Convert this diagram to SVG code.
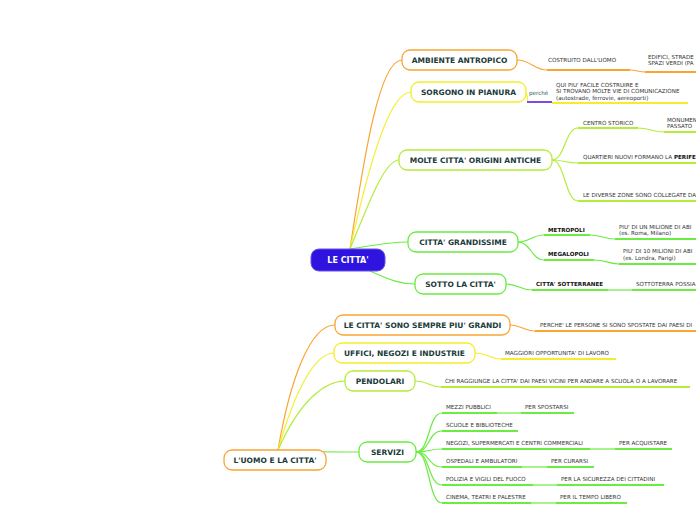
<svg xmlns="http://www.w3.org/2000/svg" width="696" height="520" viewBox="0 0 696 520">
<style>
.n{fill:#fff;stroke-width:1.3}
.t{font-family:"DejaVu Sans",sans-serif;font-size:7.5px;font-weight:bold;fill:#1a3a3a;text-anchor:middle}
.l{font-family:"DejaVu Sans",sans-serif;font-size:5.6px;fill:#333}
.b{font-weight:bold;fill:#111}
.c{fill:none;stroke-width:1.2}
.u{fill:none;stroke-width:2}
.o{stroke:#f9a534}.y{stroke:#f4ee2a}.g{stroke:#b5ec3a}.G{stroke:#6bec42}.p{stroke:#7a4ee0}
</style>
<rect width="696" height="520" fill="#fff"/>
<g id="connectors">
<path class="c o" d="M350 249 C365 150 380 60 402 60"/>
<path class="c y" d="M350 249 C370 160 390 92 411 92"/>
<path class="c g" d="M350 249 C370 200 385 160 399 160"/>
<path class="c G" d="M350 249 C375 245 390 242 408 242"/>
<path class="c G" d="M370 271 C390 280 400 284 415 284"/>
<path class="c o" d="M278 450 C290 380 310 325 335 325"/>
<path class="c y" d="M278 450 C295 390 315 353 334 353"/>
<path class="c g" d="M278 450 C300 400 325 381 345 381"/>
<path class="c G" d="M278 450 C300 452 330 452 359 452"/>
<!-- ambiente -->
<path class="c o" d="M517 60 C530 60 535 70 547 70"/><path class="u o" d="M547 70 H630"/>
<path class="c o" d="M630 70 C635 70 640 72 645 72"/><path class="u o" d="M645 72 H696"/>
<!-- pianura -->
<path class="c y" d="M526 92 C528 98 528 102 527 102"/><path class="u p" d="M527 102 H552"/><path class="u y" d="M552 103 H688"/>
<!-- origini -->
<path class="c g" d="M552 160 C565 160 565 128 578 128"/><path class="u g" d="M578 128 H638"/>
<path class="c g" d="M638 128 C650 128 652 132 664 132"/><path class="u g" d="M664 132 H696"/>
<path class="c g" d="M552 160 C565 160 565 163 578 163"/><path class="u g" d="M578 163 H696"/>
<path class="c g" d="M552 160 C565 160 565 201 578 201"/><path class="u g" d="M578 201 H696"/>
<!-- grandissime -->
<path class="c G" d="M518 242 C530 242 532 235 544 235"/><path class="u G" d="M544 235 H590"/>
<path class="c G" d="M590 235 C600 235 605 239 615 239"/><path class="u G" d="M615 239 H696"/>
<path class="c G" d="M518 242 C530 242 532 260 544 260"/><path class="u G" d="M544 260 H594"/>
<path class="c G" d="M594 260 C605 260 610 264 619 264"/><path class="u G" d="M619 264 H696"/>
<path class="c G" d="M506 284 C518 284 520 290 532 290"/><path class="u G" d="M532 290 H608"/>
<path class="c G" d="M608 290 H632"/><path class="u G" d="M632 290 H696"/>
<!-- uomo -->
<path class="c o" d="M510 325 C520 325 525 331 535 331"/><path class="u o" d="M535 331 H696"/>
<path class="c y" d="M475 353 C488 353 490 359 501 359"/><path class="u y" d="M501 359 H616"/>
<path class="c g" d="M415 381 C428 381 430 387 441 387"/><path class="u g" d="M441 387 H690"/>
<path class="c G" d="M416 452 C430 452 428 413 442 413"/><path class="u G" d="M442 413 H497"/><path class="c G" d="M497 413 H521"/><path class="u G" d="M521 413 H574"/>
<path class="c G" d="M416 452 C430 452 428 431 442 431"/><path class="u G" d="M442 431 H518"/>
<path class="c G" d="M416 452 C430 452 428 449 442 449"/><path class="u G" d="M442 449 H590"/><path class="c G" d="M590 449 H615"/><path class="u G" d="M615 449 H672"/>
<path class="c G" d="M416 452 C430 452 428 467 442 467"/><path class="u G" d="M442 467 H522"/><path class="c G" d="M522 467 H547"/><path class="u G" d="M547 467 H594"/>
<path class="c G" d="M416 452 C430 452 428 485 442 485"/><path class="u G" d="M442 485 H533"/><path class="c G" d="M533 485 H557"/><path class="u G" d="M557 485 H664"/>
<path class="c G" d="M416 452 C430 452 428 503 442 503"/><path class="u G" d="M442 503 H531"/><path class="c G" d="M531 503 H556"/><path class="u G" d="M556 503 H627"/>
</g>
<g id="main"><rect x="311" y="249" width="74" height="22" rx="8" fill="#2f14e0" stroke="#6a4ef0"/><text class="t" x="348" y="263" fill="#fff" style="fill:#fff;font-size:8px">LE CITTA'</text></g>
<g id="n1"><rect class="n o" x="402" y="50" width="115" height="20" rx="8"/><text class="t" x="459.5" y="63">AMBIENTE ANTROPICO</text></g>
<g id="n2"><rect class="n y" x="411" y="82" width="115" height="20" rx="8"/><text class="t" x="468.5" y="95">SORGONO IN PIANURA</text></g>
<g id="n3"><rect class="n g" x="399" y="150" width="153" height="20" rx="8"/><text class="t" x="475.5" y="163">MOLTE CITTA' ORIGINI ANTICHE</text></g>
<g id="n4"><rect class="n G" x="408" y="232" width="110" height="20" rx="8"/><text class="t" x="463" y="245">CITTA' GRANDISSIME</text></g>
<g id="n5"><rect class="n G" x="415" y="274" width="91" height="20" rx="8"/><text class="t" x="460.5" y="287">SOTTO LA CITTA'</text></g>
<g id="n6"><rect class="n o" x="224" y="450" width="102" height="20" rx="8"/><text class="t" x="275" y="463">L'UOMO E LA CITTA'</text></g>
<g id="n7"><rect class="n o" x="335" y="315" width="175" height="20" rx="8"/><text class="t" x="422.5" y="328">LE CITTA' SONO SEMPRE PIU' GRANDI</text></g>
<g id="n8"><rect class="n y" x="334" y="343" width="141" height="20" rx="8"/><text class="t" x="404.5" y="356">UFFICI, NEGOZI E INDUSTRIE</text></g>
<g id="n9"><rect class="n g" x="345" y="371" width="70" height="20" rx="8"/><text class="t" x="380" y="384">PENDOLARI</text></g>
<g id="n10"><rect class="n G" x="359" y="442" width="57" height="20" rx="8"/><text class="t" x="387.5" y="455">SERVIZI</text></g>
<g id="labels">
<text class="l" x="548" y="62">COSTRUITO DALL'UOMO</text>
<text class="l" x="648" y="59">EDIFICI, STRADE</text><text class="l" x="648" y="65">SPAZI VERDI (PA</text>
<text class="l" x="529" y="95" style="fill:#2a5a5a">perché</text>
<text class="l" x="556" y="87">QUI PIU' FACILE COSTRUIRE E</text><text class="l" x="556" y="93">SI TROVANO MOLTE VIE DI COMUNICAZIONE</text><text class="l" x="556" y="100">(autostrade, ferrovie, aereoporti)</text>
<text class="l" x="583" y="125">CENTRO STORICO</text>
<text class="l" x="667" y="122">MONUMEN</text><text class="l" x="667" y="128">PASSATO</text>
<text class="l" x="583" y="159">QUARTIERI NUOVI FORMANO LA <tspan class="b">PERIFE</tspan></text>
<text class="l" x="583" y="197">LE DIVERSE ZONE SONO COLLEGATE DA</text>
<text class="l b" x="548" y="232">METROPOLI</text>
<text class="l" x="619" y="229">PIU' DI UN MILIONE DI ABI</text><text class="l" x="619" y="235">(es. Roma, Milano)</text>
<text class="l b" x="548" y="256">MEGALOPOLI</text>
<text class="l" x="623" y="253">PIU' DI 10 MILIONI DI ABI</text><text class="l" x="623" y="260">(es. Londra, Parigi)</text>
<text class="l b" x="536" y="286">CITTA' SOTTERRANEE</text>
<text class="l" x="636" y="286">SOTTOTERRA POSSIA</text>
<text class="l" x="540" y="327">PERCHE' LE PERSONE SI SONO SPOSTATE DAI PAESI DI</text>
<text class="l" x="505" y="355">MAGGIORI OPPORTUNITA' DI LAVORO</text>
<text class="l" x="445" y="383">CHI RAGGIUNGE LA CITTA' DAI PAESI VICINI PER ANDARE A SCUOLA O A LAVORARE</text>
<text class="l" x="446" y="409">MEZZI PUBBLICI</text><text class="l" x="525" y="409">PER SPOSTARSI</text>
<text class="l" x="446" y="427">SCUOLE E BIBLIOTECHE</text>
<text class="l" x="446" y="445">NEGOZI, SUPERMERCATI E CENTRI COMMERCIALI</text><text class="l" x="619" y="445">PER ACQUISTARE</text>
<text class="l" x="446" y="463">OSPEDALI E AMBULATORI</text><text class="l" x="551" y="463">PER CURARSI</text>
<text class="l" x="446" y="481">POLIZIA E VIGILI DEL FUOCO</text><text class="l" x="561" y="481">PER LA SICUREZZA DEI CITTADINI</text>
<text class="l" x="446" y="499">CINEMA, TEATRI E PALESTRE</text><text class="l" x="560" y="499">PER IL TEMPO LIBERO</text>
</g>
</svg>
